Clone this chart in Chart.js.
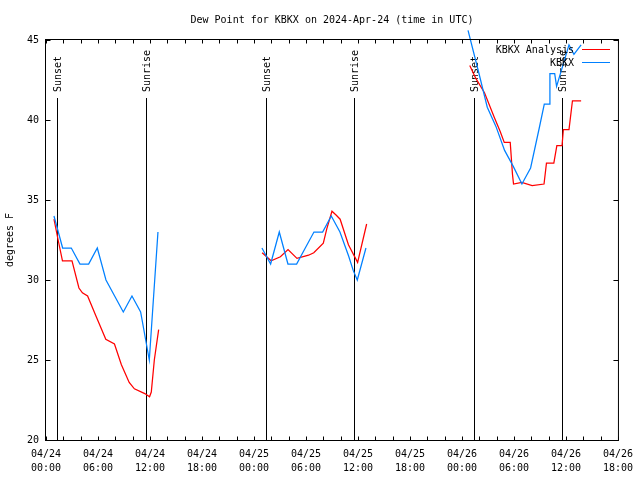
<!DOCTYPE html>
<html>
<head>
<meta charset="utf-8">
<title>Dew Point for KBKX</title>
<script src="https://cdn.jsdelivr.net/npm/chart.js@4.4.1/dist/chart.umd.min.js"></script>
<style>
  html, body { margin: 0; padding: 0; background: #fff; }
  #wrap { width: 640px; height: 480px; }
</style>
</head>
<body>
<div id="wrap"><canvas id="dewChart" width="640" height="480"></canvas></div>
<script>
// x values are hours since 2024-04-24 00:00 UTC, null = no data (gap)
const xTickLabels = [
    ['04/24', '00:00'], ['04/24', '06:00'], ['04/24', '12:00'], ['04/24', '18:00'],
    ['04/25', '00:00'], ['04/25', '06:00'], ['04/25', '12:00'], ['04/25', '18:00'],
    ['04/26', '00:00'], ['04/26', '06:00'], ['04/26', '12:00'], ['04/26', '18:00']
];

const analysisHours = [
    0.92, 1.4, 1.9, 3.0, 3.8, 4.2, 4.8, 5.8, 6.9, 7.9, 8.7, 9.6, 10.2, 11.4, 11.95, 12.15, 12.5, 13.0,
    18,
    24.94, 25.98, 27.05, 27.93, 28.96, 30.3, 30.9, 32.0, 32.4, 33.0, 33.5, 33.94, 34.9, 35.96, 37.0,
    43,
    48.9, 49.6, 50.6, 51.7, 52.4, 52.88, 53.57, 53.83, 53.95, 54.9, 56.1, 57.47, 57.75, 58.6, 58.95, 59.55, 59.7, 60.35, 60.75, 61.75
];
const analysisDew = [
    33.8, 32.5, 31.2, 31.2, 29.5, 29.2, 29.0, 27.7, 26.3, 26.0, 24.7, 23.6, 23.2, 22.9, 22.7, 23.0, 25.0, 26.9,
    null,
    31.7, 31.2, 31.45, 31.9, 31.35, 31.55, 31.7, 32.3, 33.2, 34.3, 34.05, 33.8, 32.2, 31.1, 33.5,
    null,
    43.4, 42.6, 41.7, 40.2, 39.3, 38.6, 38.6, 36.6, 36.0, 36.1, 35.9, 36.0, 37.3, 37.3, 38.4, 38.4, 39.4, 39.4, 41.2, 41.2
];

const obsHours = [
    0.92, 1.92, 2.92, 3.92, 4.92, 5.92, 6.92, 7.92, 8.92, 9.92, 10.92, 11.92, 12.92,
    18,
    24.92, 25.92, 26.92, 27.92, 28.92, 29.92, 30.92, 31.92, 32.92, 33.92, 34.92, 35.45, 35.92, 36.92,
    43,
    48.7, 49.92, 50.92, 51.92, 52.92, 53.92, 54.92, 55.92, 56.92, 57.5, 58.05, 58.15, 58.7, 58.92, 60.35, 60.92, 61.75
];
const obsDew = [
    34, 32, 32, 31, 31, 32, 30, 29, 28, 29, 28, 25, 33,
    null,
    32, 31, 33, 31, 31, 32, 33, 33, 34, 33, 31.5, 30.6, 30, 32,
    null,
    45.6, 43.0, 40.8, 39.6, 38.1, 37.1, 36.0, 37.0, 39.5, 41.0, 41.0, 42.9, 42.9, 42.1, 44.7, 44.1, 44.7
];

const sunsetHours = [1.3, 25.33, 49.37];
const sunriseHours = [11.56, 35.53, 59.5];

const toPoints = (hours, vals) => hours.map((h, i) => ({ x: h, y: vals[i] }));

const monoFont = '"DejaVu Sans Mono", "Liberation Mono", monospace';

// gnuplot-ish decorations: border, inward ticks, sun lines, legend, title
const gnuplotBits = {
    id: 'gnuplotBits',
    beforeDatasetsDraw(chart) {
        const { ctx, chartArea: a, scales: { x } } = chart;
        ctx.save();
        ctx.strokeStyle = '#000';
        ctx.fillStyle = '#000';
        ctx.lineWidth = 1;
        ctx.font = '10px ' + monoFont;
        const mark = (h, label) => {
            const px = Math.round(x.getPixelForValue(h)) + 0.5;
            ctx.beginPath();
            ctx.moveTo(px, a.bottom);
            ctx.lineTo(px, a.top + 58);
            ctx.stroke();
            ctx.save();
            ctx.translate(px + 1, a.top + 52);
            ctx.rotate(-Math.PI / 2);
            ctx.textAlign = 'left';
            ctx.textBaseline = 'middle';
            ctx.fillText(label, 0, 0);
            ctx.restore();
        };
        sunsetHours.forEach(h => mark(h, 'Sunset'));
        sunriseHours.forEach(h => mark(h, 'Sunrise'));
        ctx.restore();
    },
    afterDatasetsDraw(chart) {
        const { ctx, chartArea: a, scales: { x, y } } = chart;
        ctx.save();
        ctx.strokeStyle = '#000';
        ctx.lineWidth = 1;
        const L = a.left - 0.5, R = a.right + 0.5, T = a.top - 0.5, B = a.bottom + 0.5;
        ctx.strokeRect(L, T, R - L, B - T);

        ctx.beginPath();
        x.ticks.forEach(t => {
            const px = Math.round(x.getPixelForValue(t.value)) + 0.5;
            const len = 4;
            ctx.moveTo(px, B); ctx.lineTo(px, B - len);
            ctx.moveTo(px, T); ctx.lineTo(px, T + len);
        });
        y.ticks.forEach(t => {
            const py = Math.round(y.getPixelForValue(t.value)) + 0.5;
            ctx.moveTo(L, py); ctx.lineTo(L + 5, py);
            ctx.moveTo(R, py); ctx.lineTo(R - 5, py);
        });
        ctx.stroke();

        // legend, top right inside the plot
        ctx.font = '10px ' + monoFont;
        ctx.fillStyle = '#000';
        ctx.textAlign = 'right';
        ctx.textBaseline = 'middle';
        const rows = [['KBKX Analysis', '#ff0000', 50], ['KBKX', '#0080ff', 63]];
        rows.forEach(([txt, col, ry]) => {
            ctx.fillText(txt, 574, ry);
            ctx.strokeStyle = col;
            ctx.beginPath();
            ctx.moveTo(582, ry - 0.5);
            ctx.lineTo(610, ry - 0.5);
            ctx.stroke();
        });
        ctx.restore();
    },
    afterDraw(chart) {
        const { ctx, chartArea: a } = chart;
        ctx.save();
        ctx.font = '10px ' + monoFont;
        ctx.fillStyle = '#000';
        ctx.textAlign = 'center';
        ctx.textBaseline = 'middle';
        ctx.fillText('Dew Point for KBKX on 2024-Apr-24 (time in UTC)', (a.left + a.right) / 2, 20);
        ctx.restore();
    }
};

new Chart(document.getElementById('dewChart').getContext('2d'), {
    type: 'line',
    data: {
        datasets: [{
            label: 'KBKX',
            data: toPoints(obsHours, obsDew),
            borderColor: '#0080ff',
            borderWidth: 1.25,
            pointRadius: 0,
            tension: 0,
            spanGaps: false,
            clip: false,
            order: 0
        }, {
            label: 'KBKX Analysis',
            data: toPoints(analysisHours, analysisDew),
            borderColor: '#ff0000',
            borderWidth: 1.25,
            pointRadius: 0,
            tension: 0,
            spanGaps: false,
            order: 1
        }]
    },
    options: {
        responsive: false,
        animation: false,
        devicePixelRatio: 1,
        layout: { padding: { top: 40, right: 19, left: 0, bottom: 0 } },
        plugins: {
            legend: { display: false },
            tooltip: { enabled: false }
        },
        scales: {
            x: {
                type: 'linear',
                min: 0,
                max: 66,
                grid: { display: false, drawTicks: false },
                border: { display: false },
                afterFit: s => { s.height = 40; },
                ticks: {
                    stepSize: 2,
                    autoSkip: false,
                    maxRotation: 0,
                    minRotation: 0,
                    padding: 7,
                    color: '#000',
                    font: { family: monoFont, size: 10, lineHeight: 1.4 },
                    callback: v => (v % 6 === 0 ? xTickLabels[v / 6] : '')
                }
            },
            y: {
                min: 20,
                max: 45,
                grid: { display: false, drawTicks: false },
                border: { display: false },
                afterFit: s => { s.width = 46; },
                ticks: {
                    stepSize: 5,
                    padding: 7,
                    color: '#000',
                    font: { family: monoFont, size: 10 }
                },
                title: {
                    display: true,
                    text: 'degrees F',
                    color: '#000',
                    padding: { top: 4, bottom: 0 },
                    font: { family: monoFont, size: 10 }
                }
            }
        }
    },
    plugins: [gnuplotBits]
});
</script>
</body>
</html>
